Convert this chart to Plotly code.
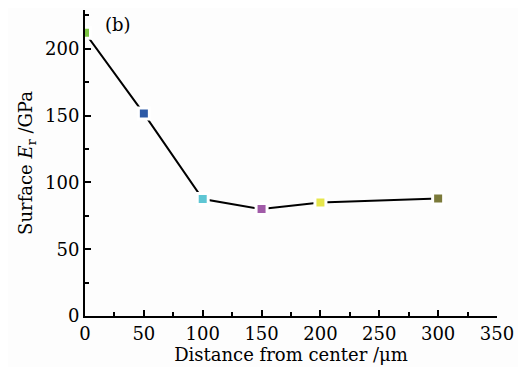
import plotly.graph_objects as go

distance = [0, 50, 100, 150, 200, 300]
modulus = [212, 151.5, 87.5, 80, 85, 88]
colors = ["#7cc443", "#2c5aa6", "#5ec6d4", "#a15ba8", "#e6e64c", "#7b7a3a"]

x_ticks = [0, 50, 100, 150, 200, 250, 300, 350]
y_ticks = [0, 50, 100, 150, 200]

font_family = "DejaVu Serif"
fs = 18

fig = go.Figure()
fig.add_trace(go.Scatter(
    x=distance, y=modulus, mode="lines+markers",
    line=dict(color="black", width=2),
    marker=dict(symbol="square", size=11, color=colors,
                line=dict(color="white", width=3)),
    showlegend=False,
))

fig.add_annotation(x=28, y=218, text="(b)", showarrow=False,
                   font=dict(family=font_family, size=fs, color="black"))

axis_common = dict(
    showgrid=False, zeroline=False, showline=True, linecolor="black",
    linewidth=2, ticks="inside", ticklen=6, tickwidth=2, tickcolor="black",
    tickfont=dict(family=font_family, size=fs, color="black"),
    automargin=False,
)

fig.update_xaxes(
    range=[0, 350], tickvals=x_ticks, ticktext=[str(v) for v in x_ticks],
    minor=dict(ticks="inside", dtick=25, tick0=0, ticklen=4, tickwidth=2, tickcolor="black"),
    title=dict(text="Distance from center /μm", standoff=0,
               font=dict(family=font_family, size=fs, color="black")),
    **axis_common,
)
fig.update_yaxes(
    range=[0, 229], tickvals=y_ticks, ticktext=[str(v) for v in y_ticks],
    minor=dict(ticks="inside", dtick=25, tick0=0, ticklen=4, tickwidth=2, tickcolor="black"),
    title=dict(text="Surface <i>E</i><sub>r</sub> /GPa", standoff=8,
               font=dict(family=font_family, size=fs, color="black")),
    **axis_common,
)

# the page body adds an 8px offset, so the figure is shrunk to fit the window
fig.update_layout(
    width=518, height=359,
    margin=dict(l=77, r=29, t=2, b=51),
    paper_bgcolor="#fdfdfd", plot_bgcolor="#fdfdfd",
)

fig.write_html("out.html")
